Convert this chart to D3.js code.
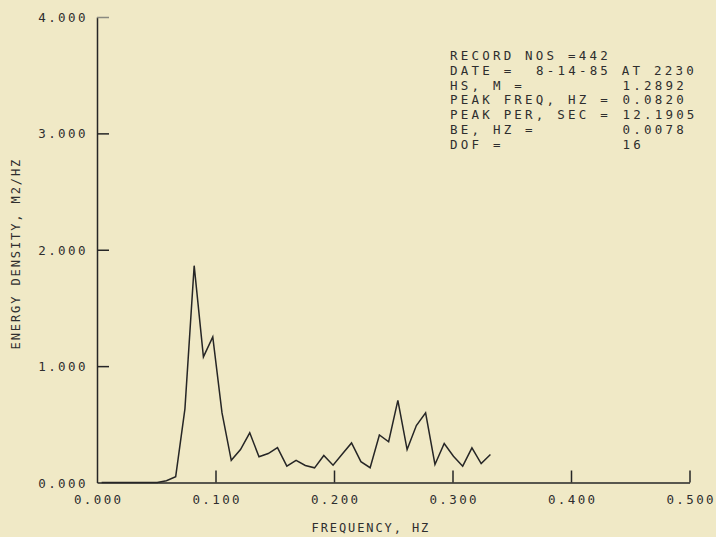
<!DOCTYPE html>
<html>
<head>
<meta charset="utf-8">
<script src="https://cdn.jsdelivr.net/npm/d3@7"></script>
<style>
  body { margin: 0; background: #f0e9c6; }
  svg { display: block; }
  text { font-family: "DejaVu Sans Mono", monospace; fill: #2e2e2e; }
</style>
</head>
<body>
<div id="chart"></div>
<script>
// spectrum, record 442 (frequency in Hz, energy density in m2/Hz)
var frequency = [0.0039, 0.0117, 0.0195, 0.0273, 0.0352, 0.0430, 0.0508, 0.0586, 0.0664, 0.0742,
                 0.0820, 0.0898, 0.0977, 0.1055, 0.1133, 0.1211, 0.1289, 0.1367, 0.1445, 0.1523,
                 0.1602, 0.1680, 0.1758, 0.1836, 0.1914, 0.1992, 0.2070, 0.2148, 0.2227, 0.2305,
                 0.2383, 0.2461, 0.2539, 0.2617, 0.2695, 0.2773, 0.2852, 0.2930, 0.3008, 0.3086,
                 0.3164, 0.3242, 0.3320];
var density = [0, 0, 0, 0, 0, 0, 0, 0.015, 0.05, 0.633,
               1.863, 1.079, 1.251, 0.598, 0.191, 0.283, 0.427, 0.221, 0.249, 0.300,
               0.140, 0.191, 0.146, 0.126, 0.232, 0.149, 0.245, 0.340, 0.179, 0.127,
               0.408, 0.350, 0.706, 0.283, 0.489, 0.598, 0.155, 0.335, 0.226, 0.140,
               0.298, 0.163, 0.240];

var xTicks = [0, 0.1, 0.2, 0.3, 0.4, 0.5];
var yTicks = [0, 1, 2, 3, 4];

var infoLabels = ["RECORD NOS =442", "DATE =", "HS, M =", "PEAK FREQ, HZ =", "PEAK PER, SEC =", "BE, HZ =", "DOF ="];
var infoValues = ["", "8-14-85 AT 2230", "1.2892", "0.0820", "12.1905", "0.0078", "16"];

var xTitle = "FREQUENCY, HZ";
var yTitle = "ENERGY DENSITY, M2/HZ";

function init() {
  var width = 716, height = 537;
  var x0 = 97, x1 = 689.5;   // axis ends
  var yBase = 482.5, yTop = 17;
  var ink = "#262626";

  var svg = d3.select("#chart")
    .append("svg")
    .attr("width", width)
    .attr("height", height);

  var xScale = d3.scaleLinear().domain([0, 0.5]).range([x0, x1]);
  var yScale = d3.scaleLinear().domain([0, 4]).range([yBase, yTop]);

  var tickLs = 2.4;  // letter spacing of tick labels

  // x axis, ticks pointing up
  var xAxis = d3.axisBottom(xScale)
    .tickValues(xTicks)
    .tickFormat(d3.format(".3f"))
    .tickSizeInner(-12)
    .tickSizeOuter(0)
    .tickPadding(13);

  var gx = svg.append("g")
    .attr("transform", "translate(0," + yBase + ")")
    .call(xAxis);

  gx.selectAll("line").filter(function(d) { return d === 0; }).remove();

  // y axis, ticks pointing right
  var yAxis = d3.axisLeft(yScale)
    .tickValues(yTicks)
    .tickFormat(d3.format(".3f"))
    .tickSizeInner(-12)
    .tickSizeOuter(0)
    .tickPadding(11.5);

  var gy = svg.append("g")
    .attr("transform", "translate(" + x0 + ",0)")
    .call(yAxis);

  gy.selectAll("line").filter(function(d) { return d === 0; }).remove();

  svg.selectAll(".domain, .tick line")
    .attr("stroke", ink)
    .attr("stroke-width", 1.5);

  gy.selectAll(".tick line").filter(function(d) { return d === 4; })
    .attr("stroke", "#8a8a80");

  svg.selectAll(".tick text")
    .attr("font-family", "DejaVu Sans Mono, monospace")
    .attr("font-size", "12.5px")
    .attr("fill", "#2e2e2e")
    .style("letter-spacing", tickLs + "px");

  gx.selectAll(".tick text").attr("dx", tickLs / 2);
  gy.selectAll(".tick text").attr("dx", tickLs).attr("dy", "0.36em");

  // spectrum line
  var line = d3.line()
    .x(function(d, i) { return xScale(frequency[i]); })
    .y(function(d) { return yScale(d); });

  svg.append("path")
    .datum(density)
    .attr("d", line)
    .attr("fill", "none")
    .attr("stroke", ink)
    .attr("stroke-width", 1.5)
    .attr("stroke-linejoin", "miter");

  // axis titles
  svg.append("text")
    .attr("x", 370 + 0.9)
    .attr("y", 532)
    .attr("text-anchor", "middle")
    .style("font-size", "12px")
    .style("letter-spacing", "1.9px")
    .text(xTitle);

  svg.append("text")
    .attr("transform", "translate(20,254.5) rotate(-90)")
    .attr("text-anchor", "middle")
    .attr("dx", 0.9)
    .style("font-size", "12px")
    .style("letter-spacing", "1.9px")
    .text(yTitle);

  // record info block
  var infoLs = 3.2;
  var info = svg.append("g");

  info.selectAll("text.lab")
    .data(infoLabels)
    .enter()
    .append("text")
    .attr("class", "lab")
    .attr("x", 450)
    .attr("y", function(d, i) { return 60 + i * 14.8; })
    .style("font-size", "12.5px")
    .style("letter-spacing", infoLs + "px")
    .text(function(d) { return d; });

  info.selectAll("text.val")
    .data(infoValues)
    .enter()
    .append("text")
    .attr("class", "val")
    .attr("x", function(d, i) { return i === 1 ? 536 : 622.5; })
    .attr("y", function(d, i) { return 60 + i * 14.8; })
    .style("font-size", "12.5px")
    .style("letter-spacing", infoLs + "px")
    .text(function(d) { return d; });
}

window.onload = init;
</script>
</body>
</html>
